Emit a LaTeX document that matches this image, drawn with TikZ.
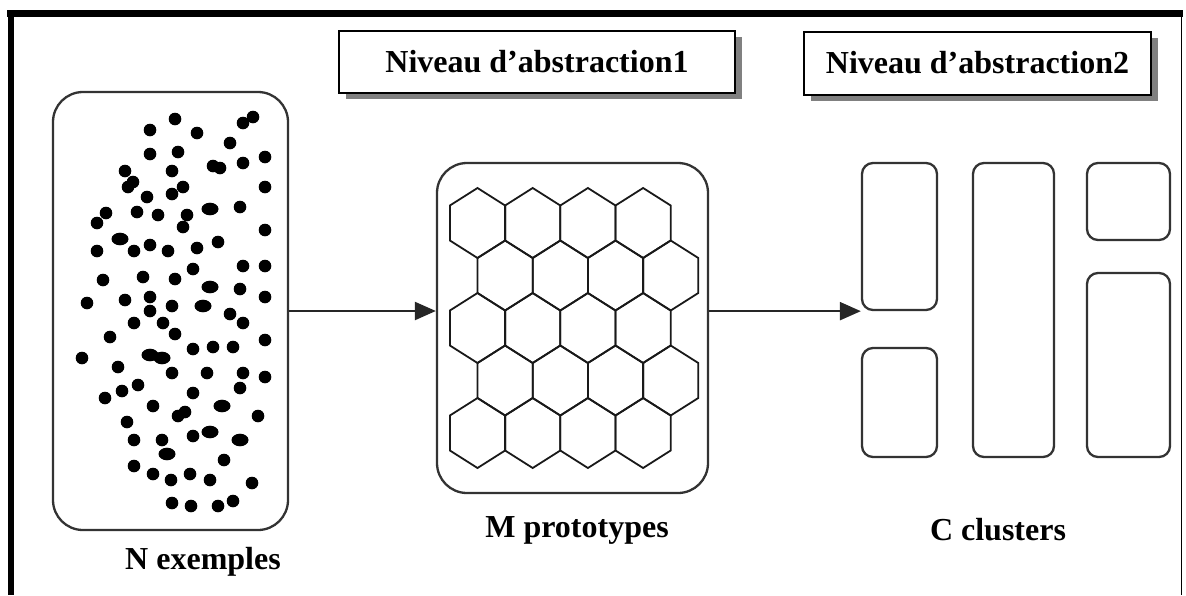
\documentclass[tikz,border=0pt]{standalone}
\usepackage{fontspec}
\setmainfont{Liberation Serif}
\usepackage{tikz}
\usetikzlibrary{arrows.meta,positioning,shadows}

\begin{document}
\begin{tikzpicture}[
  x=1pt, y=-1pt,
  panel/.style={rectangle, draw=black!80, line width=2.3pt, rounded corners=30pt},
  cluster/.style={rectangle, draw=black!80, line width=2.3pt, rounded corners=11pt},
  title/.style={rectangle, draw, line width=2pt, fill=white, font=\fontsize{32}{38}\selectfont\bfseries,
    drop shadow={shadow xshift=7pt, shadow yshift=-6pt, fill=black!50, opacity=1}},
  lbl/.style={font=\fontsize{32}{38}\selectfont\bfseries},
  arrow/.style={-{Triangle[length=21pt, width=18pt]}, line width=2.3pt, black!85}
]
\useasboundingbox (0,0) rectangle (1186,595);

% frame
\draw[line width=7pt] (7,13.5) -- (1183,13.5);
\draw[line width=6pt] (10.5,10) -- (10.5,595);
\draw[line width=1.5pt] (1181.5,10) -- (1181.5,595);

\node[title, minimum width=396pt, minimum height=62pt] (abs1) at (537,62) {Niveau d’abstraction1};
\node[title, minimum width=347pt, minimum height=63pt] (abs2) at (977.5,63) {Niveau d’abstraction2};

\node[panel, minimum width=235pt, minimum height=438pt] (examples) at (170.5,311) {};
\node[panel, minimum width=271pt, minimum height=330pt] (proto) at (572.5,328) {};

\node[cluster, minimum width=75pt, minimum height=147pt] (clA) at (899.5,236.5) {};
\node[cluster, minimum width=75pt, minimum height=109pt] (clB) at (899.5,402.5) {};
\node[cluster, minimum width=81pt, minimum height=294pt] (clC) at (1013.5,310) {};
\node[cluster, minimum width=83pt, minimum height=77pt] (clD) at (1128.5,201.5) {};
\node[cluster, minimum width=83pt, minimum height=184pt] (clE) at (1128.5,365) {};

% points
\foreach \px/\py in {150/130,175/119,197/133,243/123,253/117,230/143,150/154,178/152,265/157,243/163,
  213/166,220/168,125/171,172/171,133/182,128/187,183/187,265/187,147/197,172/194,106/213,97/223,
  137/212,158/215,187/215,183/227,240/207,265/230,97/251,134/251,150/245,168/251,197/248,218/242,
  193/269,243/266,265/266,103/280,143/277,175/279,240/289,265/297,87/303,125/300,150/297,150/311,
  172/306,230/314,243/323,134/323,163/323,175/334,110/337,265/340,82/358,118/367,193/349,213/347,
  233/347,172/373,207/373,243/373,265/377,105/398,122/391,138/385,153/406,193/393,240/388,178/416,
  185/412,258/416,127/422,134/440,162/440,193/436,224/460,134/466,153/474,171/480,190/474,210/480,
  252/483,172/503,191/506,218/506,233/501}
  \fill (\px,\py) circle (6.3pt);
\foreach \px/\py in {120/239,210/209,210/287,203/306,150/355,162/358,222/406,210/432,167/454,240/440}
  \fill (\px,\py) ellipse (8.5pt and 6.3pt);

% hexagons
\foreach \r in {0,...,4}
  \foreach \c in {0,...,3}{
    \pgfmathsetmacro{\hx}{477.5+55.2*\c+27.6*mod(\r,2)}
    \pgfmathsetmacro{\hy}{223+52.5*\r}
    \draw[black!90, line width=1.8pt] (\hx,\hy-35) -- (\hx+27.6,\hy-17.5) -- (\hx+27.6,\hy+17.5)
      -- (\hx,\hy+35) -- (\hx-27.6,\hy+17.5) -- (\hx-27.6,\hy-17.5) -- cycle;
  }

\draw[arrow] (examples) -- (examples -| proto.west);
\draw[arrow] (proto.east |- clA.south west) -- (clA.south west);

\node[lbl] (nlbl) at (203,562) {N exemples};
\node[lbl] (mlbl) at (577,530) {M prototypes};
\node[lbl] (clbl) at (998,530) {C clusters};
\end{tikzpicture}
\end{document}
